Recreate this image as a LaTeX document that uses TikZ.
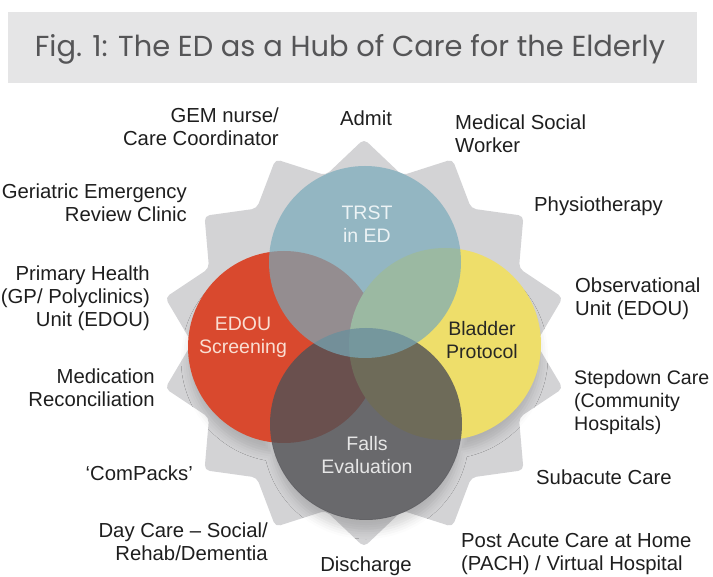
\documentclass[tikz,border=0pt]{standalone}
\usepackage{fontspec}
\setmainfont{Liberation Sans}
\newfontfamily\titlefont{Poppins}
\usetikzlibrary{shadows.blur}
\definecolor{starg}{RGB}{211,211,213}
\definecolor{titlebg}{RGB}{229,229,230}
\definecolor{titlec}{RGB}{85,85,87}
\definecolor{labc}{RGB}{30,30,30}
\definecolor{cred}{RGB}{217,73,46}
\definecolor{cyel}{RGB}{238,222,106}
\definecolor{cgry}{RGB}{82,82,86}
\definecolor{cblu}{RGB}{120,170,186}
\begin{document}
\begin{tikzpicture}[x=1pt,y=-1pt,
  lab/.style={font=\fontsize{20.3}{23}\selectfont, text=labc, inner sep=0pt},
  labR/.style={lab, align=right, anchor=east},
  labL/.style={lab, align=left, anchor=west},
  labC/.style={lab, align=center},
  disc/.style={circle, minimum size=192pt, inner sep=0pt, draw=none},
  intext/.style={font=\fontsize{19.5}{23}\selectfont, inner sep=0pt, align=center}]
\useasboundingbox (0,0) rectangle (713,577);
% title
\node[fill=titlebg, minimum width=689pt, minimum height=71pt, inner sep=0pt] (titlebox) at (352.5,47.5) {};
\node[inner sep=0pt, text=titlec] (title) at (350,49) {\resizebox{630pt}{!}{\titlefont Fig. 1: The ED as a Hub of Care for the Elderly}};
% star
\coordinate (C) at (364,343);
\fill[starg, rounded corners=5pt] ([shift={(C)}]90:204)
  \foreach \i in {0,...,12}{ -- ([shift={(C)}]{90+\i*25.714+12.857}:172) -- ([shift={(C)}]{90+\i*25.714+25.714}:204) }
  -- ([shift={(C)}]{90+13*25.714+12.857}:172) -- cycle;
% soft shadow under the circles
\path[fill=starg, blur shadow={shadow blur radius=8pt, shadow xshift=0pt, shadow yshift=-12pt, shadow opacity=16}]
  (284,347) circle[radius=95pt] (445,344) circle[radius=95pt] (366,424) circle[radius=95pt];
% circles
\node[disc, fill=cred] (red) at (284,347) {};
\node[disc, fill=cyel] (yel) at (445,344) {};
\node[disc, fill=cgry, fill opacity=0.82] (gry) at (366,424) {};
\node[disc, fill=cblu, fill opacity=0.7] (blu) at (365,262) {};
% circle texts
\node[intext, text={rgb,255:red,236;green,243;blue,245}] (trst) at (367,224) {TRST\\in ED};
\node[intext, text={rgb,255:red,250;green,222;blue,210}] (edou) at (243,337) {EDOU\\Screening};
\node[intext, text={rgb,255:red,40;green,40;blue,36}] (blad) at (482,340) {Bladder\\Protocol};
\node[intext, text={rgb,255:red,230;green,230;blue,230}] (falls) at (367,455) {Falls\\Evaluation};
% labels
\node[labR] (gem) at (279,127) {GEM nurse/\\Care Coordinator};
\node[labC] (admit) at (366,118) {Admit};
\node[labL] (msw) at (455,134) {Medical Social\\Worker};
\node[labR] (ger) at (187,203) {Geriatric Emergency\\Review Clinic};
\node[labL] (phys) at (534,206) {Physiotherapy};
\node[labR] (prim) at (150,298) {Primary Health\\(GP/ Polyclinics)\\Unit (EDOU)};
\node[labL] (obs) at (575,299) {Observational\\Unit (EDOU)};
\node[labR] (med) at (155,388) {Medication\\Reconciliation};
\node[labL, font=\fontsize{19.6}{23}\selectfont] (step) at (574,402) {Stepdown Care\\(Community\\Hospitals)};
\node[labR] (comp) at (193,473) {‘ComPacks’};
\node[labL] (sub) at (536,477) {Subacute Care};
\node[labR] (day) at (268,542) {Day Care – Social/\\Rehab/Dementia};
\node[labC] (dis) at (366,566) {Discharge};
\node[labL] (pach) at (461,554) {Post Acute Care at Home\\(PACH) / Virtual Hospital};
\end{tikzpicture}
\end{document}
